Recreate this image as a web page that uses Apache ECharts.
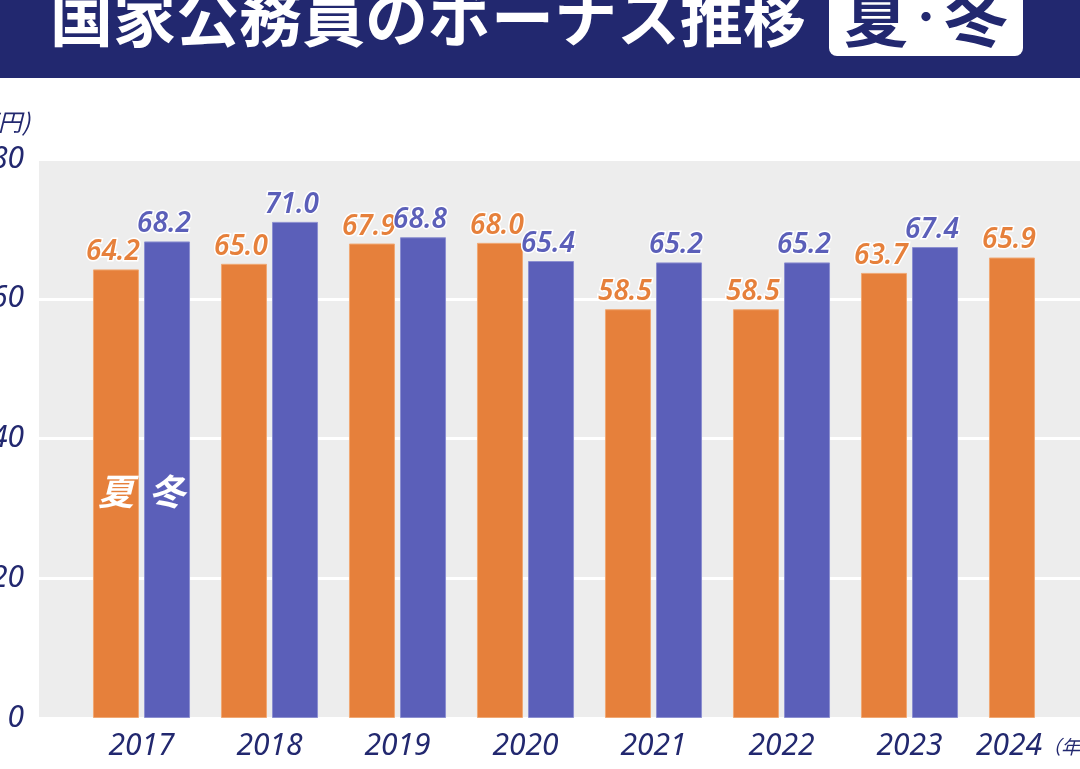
<!DOCTYPE html>
<html>
<head>
<meta charset="utf-8">
<script src="https://cdn.jsdelivr.net/npm/echarts@6/dist/echarts.min.js"></script>
<style>
html, body { margin: 0; padding: 0; background: #fff; }
#main { width: 1080px; height: 769px; }
</style>
</head>
<body>
<div id="main"></div>
<script>
// 国家公務員のボーナス（万円）
var years = ['2017', '2018', '2019', '2020', '2021', '2022', '2023', '2024'];
var summer = [64.2, 65.0, 67.9, 68.0, 58.5, 58.5, 63.7, 65.9];
var winter = [68.2, 71.0, 68.8, 65.4, 65.2, 65.2, 67.4, null];
var yTicks = [0, 20, 40, 60, 80];

var NAVY = '#22286f';
var ORANGE = '#e6803b';
var BLUE = '#5b5fb9';
var FONT = "'Noto Sans', 'Noto Sans CJK JP', sans-serif";
var JFONT = "'Noto Sans CJK JP', sans-serif";

var myChart = echarts.init(document.getElementById('main'));

function valueLabel(color) {
	return {
		show: true,
		position: 'top',
		distance: 3,
		offset: [-3, 0],
		color: color,
		fontSize: 28,
		fontStyle: 'italic',
		fontWeight: 600,
		fontFamily: FONT,
		textBorderColor: '#fff',
		textBorderWidth: 3,
		formatter: function (p) { return p.value == null ? '' : p.value.toFixed(1); }
	};
}

function seasonMark(text) {
	return {
		symbol: 'circle', symbolSize: 0,
		label: {
			show: true, position: 'inside', formatter: text,
			color: '#fff', fontSize: 36, fontWeight: 'bold', fontStyle: 'italic', fontFamily: JFONT
		},
		data: [{ coord: ['2017', 32.5] }]
	};
}

var option = {
	animation: false,
	backgroundColor: '#fff',
	graphic: [
		{ type: 'rect', shape: { x: 0, y: 0, width: 1080, height: 78 }, style: { fill: NAVY } },
		{
			type: 'text', x: 50, y: 17,
			style: {
				text: '国家公務員のボーナス推移', fill: '#fff',
				font: 'bold 63px ' + JFONT, textVerticalAlign: 'middle'
			}
		},
		{ type: 'rect', shape: { x: 829, y: -12, width: 194, height: 68, r: 8 }, style: { fill: '#fff' } },
		{
			type: 'text', x: 926, y: 17,
			style: {
				text: '夏{d|・}冬', fill: NAVY, font: 'bold 64px ' + JFONT,
				textAlign: 'center', textVerticalAlign: 'middle',
				rich: { d: { fontSize: 36, fontWeight: 'bold', fontFamily: JFONT, fill: NAVY } }
			}
		},
		{
			type: 'text', x: 30, y: 122,
			style: {
				text: '(万円)', fill: NAVY, font: 'italic 24px ' + JFONT,
				textAlign: 'right', textVerticalAlign: 'middle'
			}
		}
	],
	grid: [
		{ left: 39, right: 0, top: 159, bottom: 51, show: true, backgroundColor: '#ededed', borderWidth: 0, outerBoundsMode: 'none', containLabel: false },
		{ left: 77.5, width: 1024, top: 159, bottom: 51, outerBoundsMode: 'none', containLabel: false }
	],
	xAxis: [
		{ gridIndex: 0, type: 'value', show: false, min: 0, max: 1 },
		{
			gridIndex: 1, type: 'category', data: years,
			axisLine: { show: false }, axisTick: { show: false },
			axisLabel: {
				interval: 0, margin: 13, color: NAVY, fontSize: 30, fontStyle: 'italic', fontFamily: FONT,
				formatter: function (v) { return v === '2024' ? v + '{u|（年）}' : v; },
				rich: { u: { fontSize: 19, color: NAVY, fontFamily: JFONT, fontStyle: 'italic', padding: [2, 0, 0, 0] } }
			}
		}
	],
	yAxis: [
		{
			gridIndex: 0, type: 'value', min: yTicks[0], max: yTicks[yTicks.length - 1], interval: 20,
			axisLine: { show: false }, axisTick: { show: false },
			splitLine: { lineStyle: { color: '#fff', width: 3 } },
			axisLabel: { margin: 15, color: NAVY, fontSize: 30, fontStyle: 'italic', fontFamily: FONT }
		},
		{ gridIndex: 1, type: 'value', min: 0, max: 80, show: false }
	],
	series: [
		{
			name: '夏', type: 'bar', xAxisIndex: 1, yAxisIndex: 1,
			data: summer, barWidth: 46, barGap: '11%',
			itemStyle: { color: ORANGE, borderColor: '#f0a874', borderWidth: 1 },
			label: valueLabel(ORANGE),
			markPoint: seasonMark('夏')
		},
		{
			name: '冬', type: 'bar', xAxisIndex: 1, yAxisIndex: 1,
			data: winter, barWidth: 46,
			itemStyle: { color: BLUE, borderColor: '#8c8fd0', borderWidth: 1 },
			label: valueLabel(BLUE),
			markPoint: seasonMark('冬')
		}
	]
};

myChart.setOption(option);
</script>
</body>
</html>
